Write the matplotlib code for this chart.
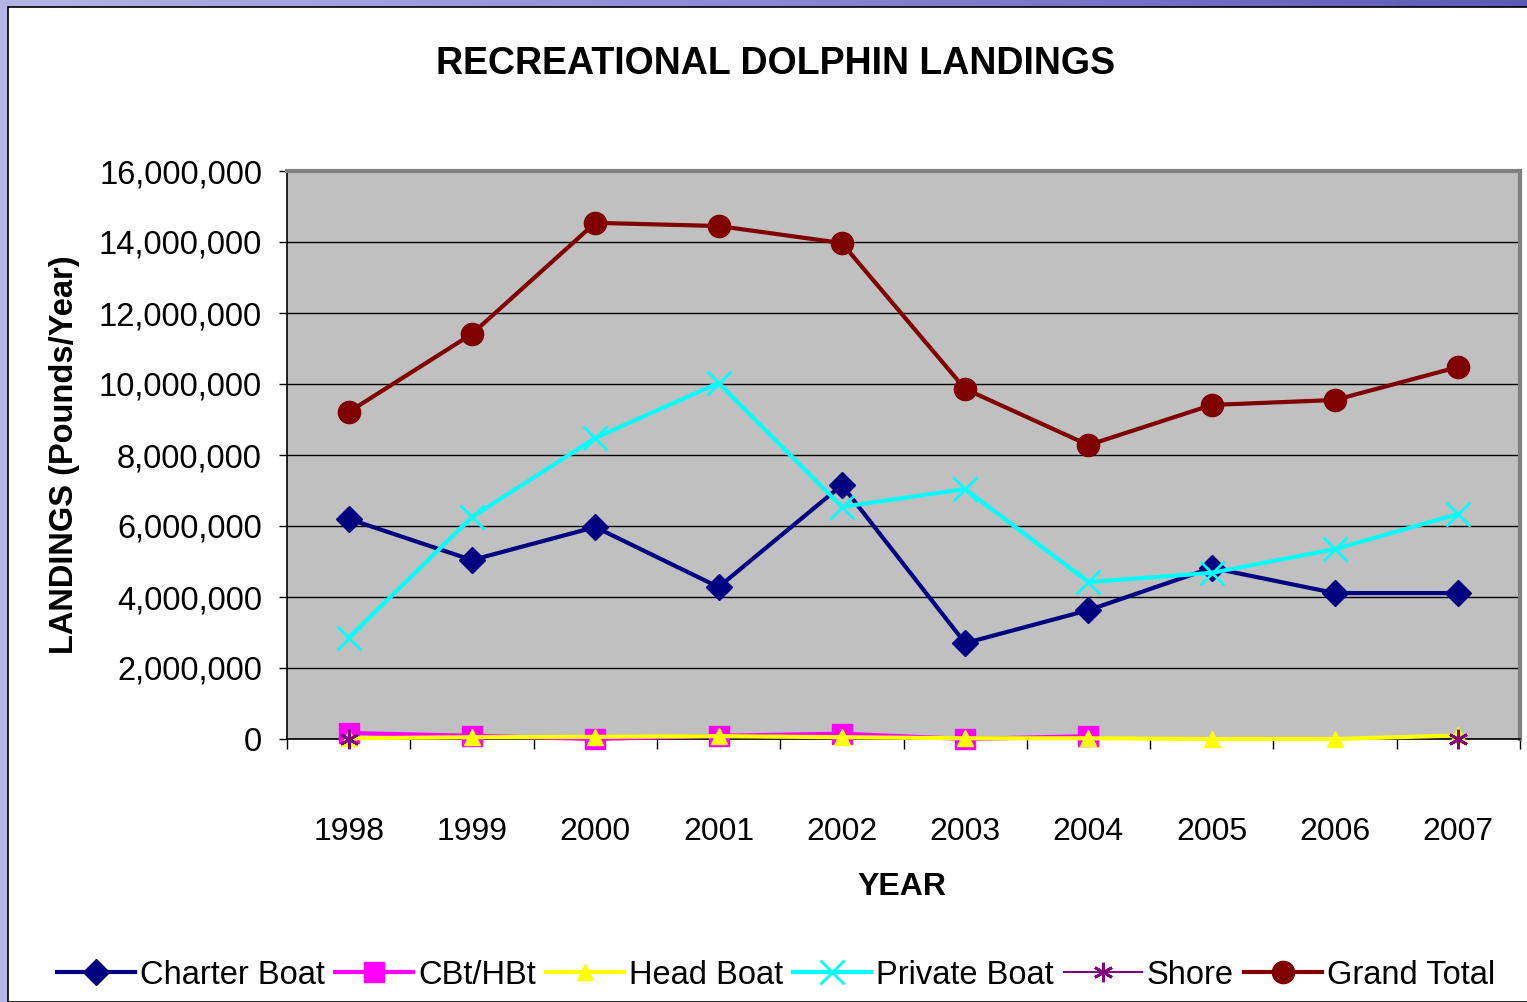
import numpy as np
import matplotlib
matplotlib.use("Agg")
import matplotlib.pyplot as plt
from matplotlib.ticker import FixedLocator, FuncFormatter

plt.rcParams['font.family'] = ['Liberation Sans', 'DejaVu Sans']

years = ['1998', '1999', '2000', '2001', '2002', '2003', '2004', '2005', '2006', '2007']

charter_boat = [6.20, 5.04, 5.97, 4.28, 7.15, 2.70, 3.63, 4.82, 4.11, 4.11]
cbt_hbt = [0.17, 0.09, 0.00, 0.09, 0.15, 0.00, 0.08, None, None, None]
head_boat = [0.02, 0.05, 0.06, 0.08, 0.05, 0.02, 0.02, 0.00, 0.00, 0.10]
private_boat = [2.85, 6.25, 8.48, 10.03, 6.54, 7.04, 4.42, 4.68, 5.35, 6.34]
shore = [0.00, None, None, None, None, None, None, None, None, 0.00]
grand_total = [9.21, 11.41, 14.54, 14.45, 13.97, 9.86, 8.28, 9.41, 9.55, 10.48]


def to_arr(vals):
    # millions -> pounds, None -> nan
    return np.array([np.nan if v is None else v * 1e6 for v in vals])


fig = plt.figure(figsize=(15.27, 10.02), dpi=100)

# slide background: purple gradient border on top and left
bg = fig.add_axes([0, 0, 1, 1], zorder=-10)
grad = np.linspace(0, 1, 256).reshape(1, -1)
cmap = matplotlib.colors.LinearSegmentedColormap.from_list('bg', ['#b4b4e4', '#8c88d4', '#5c58b8'])
bg.imshow(grad, aspect='auto', cmap=cmap, extent=[0, 1, 0, 1])
bg.add_patch(plt.Rectangle((8 / 1527, 0), 1, (1002 - 7) / 1002, facecolor='white',
                           edgecolor='black', linewidth=1.2))
bg.set_xlim(0, 1)
bg.set_ylim(0, 1)
bg.axis('off')

ax = fig.add_axes([287 / 1527, 1 - 739 / 1002, (1520 - 287) / 1527, (739 - 171) / 1002])
ax.set_facecolor('#c0c0c0')

x = np.arange(len(years))

ax.plot(x, to_arr(charter_boat), color='#000080', lw=3, marker='D', ms=13, label='Charter Boat',
        zorder=3, clip_on=False)
ax.plot(x, to_arr(cbt_hbt), color='#ff00ff', lw=3, marker='s', ms=15, label='CBt/HBt',
        zorder=4, clip_on=False)
ax.plot(x, to_arr(head_boat), color='#ffff00', lw=3, marker='^', ms=11, label='Head Boat',
        zorder=5, clip_on=False)
ax.plot(x, to_arr(private_boat), color='#00ffff', lw=3, marker='x', ms=17, mew=2,
        label='Private Boat', zorder=6, clip_on=False)
ax.plot(x, to_arr(shore), color='#800080', lw=1.5, marker=(6, 2, 0), ms=14, mew=2,
        label='Shore', zorder=7, clip_on=False)
ax.plot(x, to_arr(grand_total), color='#800000', lw=3, marker='o', ms=16, label='Grand Total',
        zorder=8, clip_on=False)

ax.set_xlim(-0.5, len(years) - 0.5)
ax.set_ylim(0, 16e6)
ax.yaxis.set_major_locator(FixedLocator(np.arange(0, 16.1e6, 2e6)))
ax.yaxis.set_major_formatter(FuncFormatter(lambda v, p: f'{v:,.0f}'))
ax.grid(axis='y', color='black', lw=1)
ax.set_axisbelow(True)

# category ticks between years, labels at the centres
ax.xaxis.set_major_locator(FixedLocator(np.arange(-0.5, len(years), 1)))
ax.xaxis.set_major_formatter(FuncFormatter(lambda v, p: ''))
ax.xaxis.set_minor_locator(FixedLocator(x))
ax.set_xticklabels(years, minor=True)
ax.tick_params(axis='x', which='major', direction='out', length=7, width=1)
ax.tick_params(axis='x', which='minor', length=0, pad=56, labelsize=23)
ax.tick_params(axis='y', direction='out', length=6, width=1, pad=12, labelsize=23.5)

for side in ['top', 'right']:
    ax.spines[side].set_color('#808080')
    ax.spines[side].set_linewidth(3)
for side in ['left', 'bottom']:
    ax.spines[side].set_color('black')
    ax.spines[side].set_linewidth(1.2)

fig.text(776 / 1527, 1 - 64 / 1002, 'RECREATIONAL DOLPHIN LANDINGS', ha='center', va='center',
         fontsize=27, fontweight='bold')
fig.text(902 / 1527, 1 - 887 / 1002, 'YEAR', ha='center', va='center', fontsize=23, fontweight='bold')
fig.text(65 / 1527, 1 - 455 / 1002, 'LANDINGS (Pounds/Year)', ha='center', va='center',
         rotation=90, fontsize=23.5, fontweight='bold')

fig.legend(loc='center', bbox_to_anchor=(776 / 1527, 1 - 975 / 1002), ncol=6, frameon=False,
           fontsize=23.5, handlelength=2.4, handletextpad=0.15, columnspacing=0.3, borderaxespad=0)

fig.savefig('out.png', dpi=100)
